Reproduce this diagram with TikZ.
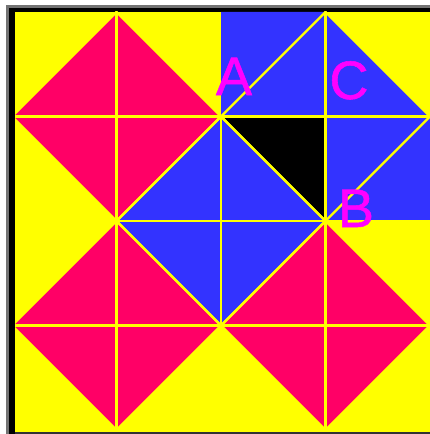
\documentclass[tikz,border=0pt]{standalone}
\usepackage{fontspec}
\newfontfamily\labelfont[FakeBold=1]{Liberation Sans}
\usepackage{xcolor}
\usepackage{tikz}
\usetikzlibrary{positioning, calc}

\definecolor{tilepink}{HTML}{FF0066}
\definecolor{tileblue}{HTML}{3333FF}
\definecolor{tileyellow}{HTML}{FFFF00}
\definecolor{labelmag}{HTML}{FF00FF}

\begin{document}
\begin{tikzpicture}[x=0.05cm, y=-0.05cm,
    pinktile/.style={fill=tilepink},
    bluetile/.style={fill=tileblue},
    blacktile/.style={fill=black},
    gridline/.style={draw=tileyellow, line width=3.2pt, line cap=round},
    letter/.style={text=labelmag, inner sep=0pt, anchor=base, font=\labelfont\fontsize{77}{77}\selectfont}]

    \useasboundingbox (0,0) rectangle (430,434);
    \fill [white] (0,0) rectangle (430,434);
    \fill [tileyellow] (15,12) rectangle (430,432);
    \fill [black!55] (6,5) rectangle (430,8);
    \fill [black!55] (6,5) rectangle (9,434);
    \fill [black] (9,8) rectangle (430,12);
    \fill [black] (9,8) rectangle (15,434);
    \fill [black!80] (15,432) rectangle (430,434);

    \foreach \i in {0,...,4}
        \foreach \j in {0,...,4}
            \coordinate (g\i\j) at (12+104.5*\i, 12+104.5*\j);

    \begin{scope}
        \clip (15,12) rectangle (430,432);
        \path [bluetile] (g20) -- (g30) -- (g41) -- (g42) -- (g32) -- (g23) -- (g12) -- (g21) -- cycle;
        \path [blacktile] (g21) -- (g31) -- (g32) -- cycle;
        \path [pinktile] (g10) -- (g21) -- (g12) -- (g01) -- cycle;
        \path [pinktile] (g12) -- (g23) -- (g14) -- (g03) -- cycle;
        \path [pinktile] (g32) -- (g43) -- (g34) -- (g23) -- cycle;

        \path [gridline] (g01) -- (g41);
        \path [gridline] (g12) -- (g42);
        \path [gridline] (g03) -- (g43);
        \path [gridline] (g10) -- (g14);
        \path [gridline] (g21) -- (g23);
        \path [gridline] (g30) -- (g34);

        \path [gridline] (g10) -- (g21) -- (g12) -- (g01) -- cycle;
        \path [gridline] (g21) -- (g32) -- (g23) -- (g12) -- cycle;
        \path [gridline] (g30) -- (g41) -- (g32) -- (g21) -- cycle;
        \path [gridline] (g12) -- (g23) -- (g14) -- (g03) -- cycle;
        \path [gridline] (g32) -- (g43) -- (g34) -- (g23) -- cycle;
    \end{scope}

    \node [letter] (labA) at (234,95) {A};
    \node [letter] (labC) at (349,99) {C};
    \node [letter] (labB) at (356,227) {B};
\end{tikzpicture}
\end{document}
